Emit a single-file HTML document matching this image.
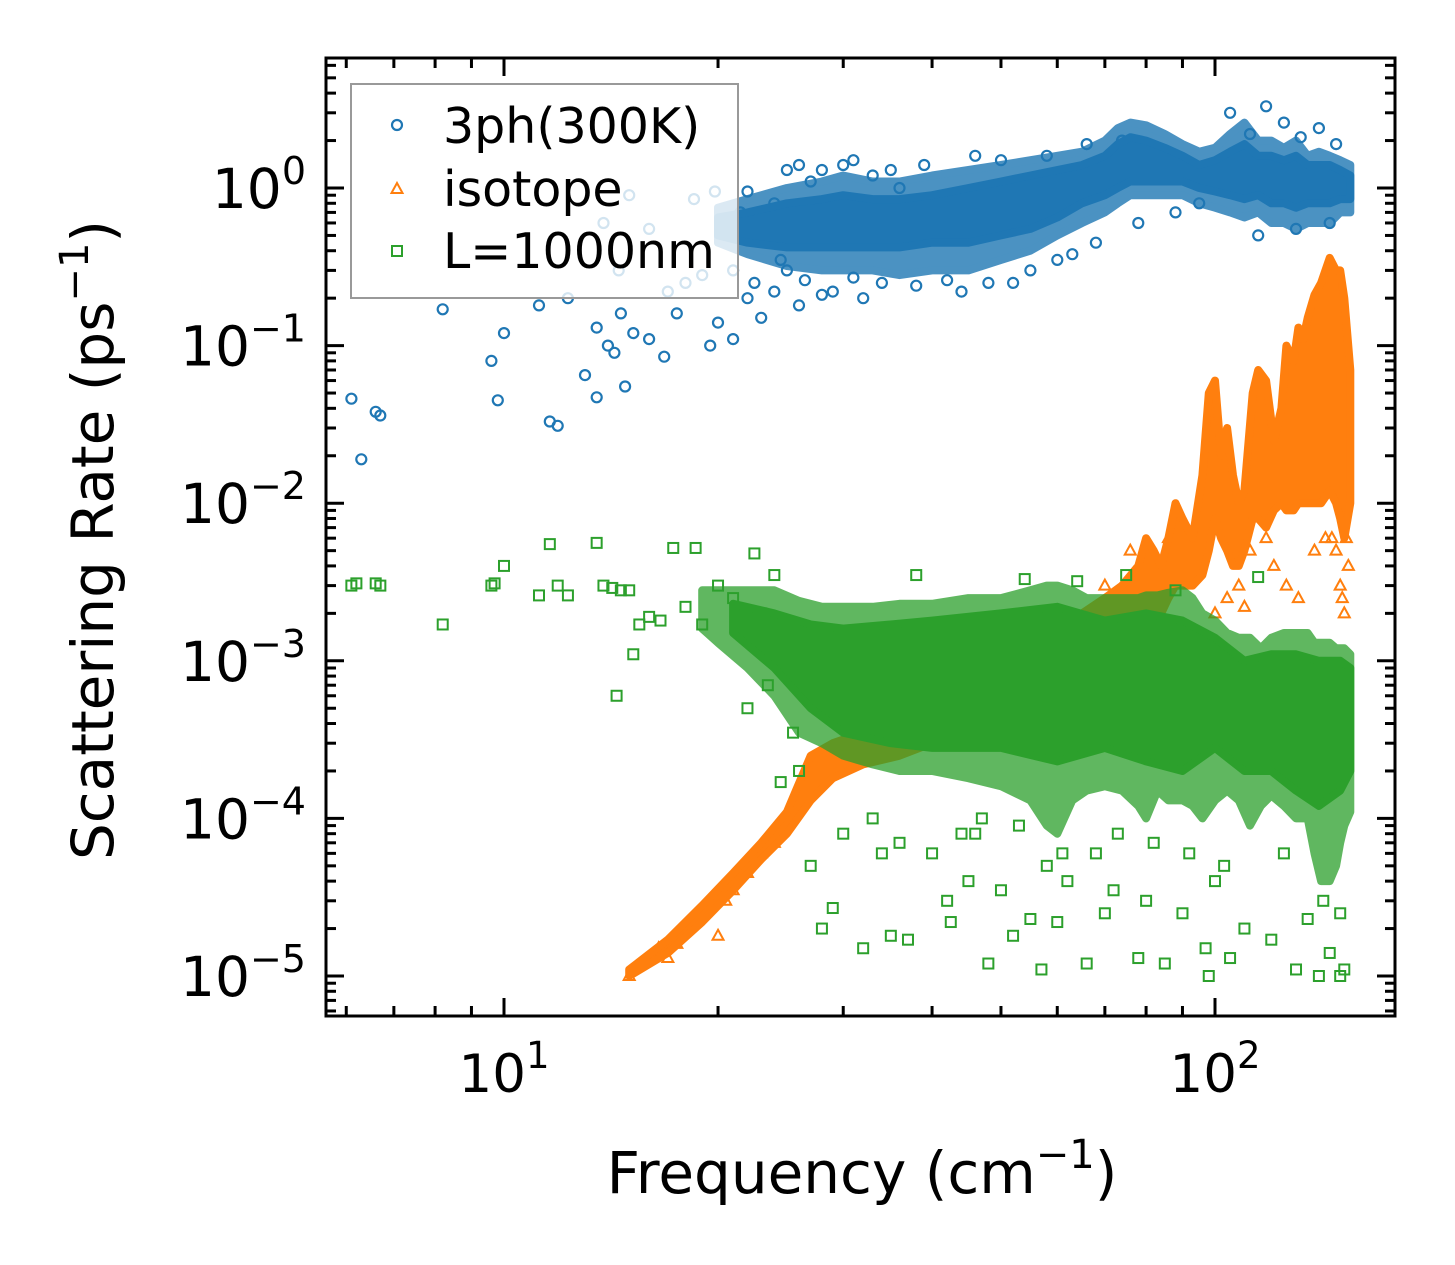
<!DOCTYPE html>
<html><head><meta charset="utf-8">
<style>
html,body{margin:0;padding:0;background:#fff;}
svg{display:block;font-family:"DejaVu Sans","Liberation Sans",sans-serif;}
</style></head>
<body>
<svg id="chart" width="1455" height="1265" viewBox="0 0 1455 1265" xmlns="http://www.w3.org/2000/svg">
<rect width="1455" height="1265" fill="#fff"/>
<g id="marks"></g>
<g id="axes"></g>
</svg>
<script>
// ---- data ----
const xTickVals = [10, 100];
const xTickExp = ["1", "2"];
const yTickVals = [1, 0.1, 0.01, 0.001, 0.0001, 0.00001];
const yTickExp = ["0", "\u22121", "\u22122", "\u22123", "\u22124", "\u22125"];

// 3ph band (dense envelope)
const bandFreq = [20,22,25,28,30,33,36,40,45,50,55,60,65,70,73,76,80,85,90,95,100,105,110,115,120,125,130,135,140,145,150,155];
const bandHi = [0.75,0.85,1.0,1.1,1.2,1.1,1.1,1.2,1.3,1.4,1.5,1.6,1.7,2.0,2.4,2.6,2.5,2.2,1.9,1.7,1.8,2.2,2.6,2.0,2.0,1.8,2.0,1.6,1.7,1.6,1.5,1.4];
const bandLo = [0.45,0.38,0.32,0.3,0.3,0.3,0.28,0.3,0.3,0.35,0.4,0.5,0.6,0.7,0.8,0.9,0.9,0.9,0.9,0.8,0.75,0.7,0.65,0.7,0.6,0.6,0.55,0.6,0.6,0.6,0.7,0.7];
const bandCoreLo = [0.5,0.45,0.42,0.42,0.42,0.42,0.42,0.45,0.45,0.5,0.55,0.65,0.8,0.9,1.0,1.1,1.1,1.1,1.1,1.0,0.95,0.9,0.85,0.9,0.8,0.8,0.75,0.8,0.8,0.8,0.85,0.85];
const bandCoreHi = [0.65,0.7,0.8,0.85,0.9,0.85,0.85,0.9,1.0,1.1,1.2,1.3,1.4,1.6,1.9,2.1,2.0,1.8,1.6,1.4,1.5,1.7,1.9,1.6,1.6,1.5,1.6,1.4,1.4,1.4,1.3,1.2];
// 3ph scattered points
const phFreq = [6.1,6.3,6.6,6.7,8.2,9.6,9.8,10,11.2,11.6,11.9,12.3,13,13.5,13.5,14,14.3,14.6,14.8,15.2,16,16.8,17.5,18,19.5,20,21,22,23,24,25,26,28,32,15,16,18.5,19.8,20.5,21.5,22,23,24,25,27,30,33,36,13.8,14.5,17,19,44,52,60,68,78,88,95,105,112,118,125,132,140,148,153,115,130,145,21,22.5,24.5,26.5,29,31,34,38,42,48,55,63,26,28,31,35,39,46,50,58,66,74];
const phRate = [0.046,0.019,0.038,0.036,0.17,0.08,0.045,0.12,0.18,0.033,0.031,0.2,0.065,0.047,0.13,0.1,0.09,0.16,0.055,0.12,0.11,0.085,0.16,0.25,0.1,0.14,0.11,0.2,0.15,0.22,0.3,0.18,0.21,0.2,0.9,0.55,0.85,0.95,0.6,0.7,0.95,0.5,0.8,1.3,1.1,1.4,1.2,1.0,0.6,0.3,0.22,0.28,0.22,0.25,0.35,0.45,0.6,0.7,0.8,3.0,2.2,3.3,2.6,2.1,2.4,1.9,0.9,0.5,0.55,0.6,0.3,0.25,0.35,0.26,0.22,0.27,0.25,0.24,0.26,0.25,0.3,0.38,1.4,1.3,1.5,1.3,1.4,1.6,1.5,1.6,1.9,2.0];

// isotope band
const isoFreq = [15,17,19,21,23,25,27,29,32,36,40,50,60,65,70,74,78,80,82,84,86,88,90,93,96,98,100,102,104,106,108,110,113,115,118,121,124,126,129,131,133,135,138,141,145,148,150,152,155];
const isoLo = [1e-5,1.4e-5,2.2e-5,3.5e-5,5.5e-5,8e-5,1.3e-4,1.8e-4,2.2e-4,2.5e-4,3e-4,3.5e-4,4.5e-4,6e-4,8e-4,1e-3,1.5e-3,2e-3,2e-3,2e-3,2.5e-3,3e-3,3e-3,3e-3,3.5e-3,5e-3,8e-3,6e-3,5e-3,4e-3,4e-3,5e-3,8e-3,8e-3,7e-3,9e-3,1e-2,9e-3,9e-3,1e-2,1e-2,1e-2,1e-2,1e-2,1.2e-2,1e-2,8e-3,6e-3,1e-2];
const isoHi = [1.1e-5,1.7e-5,2.8e-5,4.5e-5,7e-5,1.1e-4,2.5e-4,3e-4,3.5e-4,5e-4,6e-4,8e-4,1.2e-3,2e-3,2.5e-3,3e-3,4e-3,6e-3,5e-3,4e-3,6e-3,1e-2,8e-3,6e-3,1.5e-2,5e-2,6e-2,2e-2,3e-2,1.5e-2,1e-2,1.2e-2,5e-2,7e-2,6e-2,2.5e-2,4e-2,1e-1,8e-2,1.3e-1,1.1e-1,1.5e-1,2.1e-1,2.5e-1,3.6e-1,3e-1,3e-1,2e-1,7e-2];
// isotope scattered points
const isoPtFreq = [15,16,16.5,17,17.5,18.5,19,20,20.5,21,22,23,24,25,26,27,70,76,86,92,100,104,108,110,112,118,121,126,131,138,143,146,148,150,151,152,153,154];
const isoPtRate = [1e-5,1.3e-5,1.5e-5,1.3e-5,1.6e-5,2.2e-5,2.6e-5,1.8e-5,3e-5,3.5e-5,4.5e-5,6e-5,7e-5,9e-5,1.2e-4,1.6e-4,3e-3,5e-3,6e-3,4e-3,2e-3,2.5e-3,3e-3,2.2e-3,5e-3,6e-3,4e-3,3e-3,2.5e-3,5e-3,6e-3,6e-3,5e-3,3e-3,2.5e-3,2e-3,6e-3,4e-3];

// boundary band
const gFreq = [19,20,22,24,26,28,30,33,36,40,45,50,55,58,60,63,66,70,74,78,80,83,86,90,93,96,100,104,108,112,116,120,125,130,135,138,141,145,148,150,152,155];
const gHi = [2.8e-3,2.8e-3,2.8e-3,2.8e-3,2.4e-3,2.2e-3,2.2e-3,2.2e-3,2.3e-3,2.3e-3,2.5e-3,2.5e-3,2.8e-3,3e-3,3e-3,2.8e-3,2.5e-3,2.5e-3,2.5e-3,2.5e-3,2.6e-3,2.6e-3,2.7e-3,2.8e-3,2.5e-3,2e-3,1.8e-3,1.5e-3,1.4e-3,1.4e-3,1.2e-3,1.4e-3,1.5e-3,1.5e-3,1.5e-3,1.3e-3,1.3e-3,1.3e-3,1.2e-3,1.2e-3,1.2e-3,1.1e-3];
const gLo = [1.6e-3,1.3e-3,9e-4,6e-4,3.5e-4,3e-4,2.5e-4,2.2e-4,2e-4,2e-4,1.8e-4,1.6e-4,1.3e-4,9e-5,8e-5,1.3e-4,1.5e-4,1.6e-4,1.5e-4,1.2e-4,1e-4,1.5e-4,1.3e-4,1.3e-4,1.2e-4,1e-4,1.3e-4,1.5e-4,1.3e-4,9e-5,1.2e-4,1.4e-4,1.2e-4,1e-4,1e-4,6e-5,4e-5,4e-5,5e-5,7e-5,9e-5,1.1e-4];
const gCoreFreq = [21,24,27,30,35,40,50,60,70,80,90,100,110,120,130,140,150,155];
const gCoreLo = [1.5e-3,9e-4,5e-4,3.5e-4,3e-4,2.8e-4,2.8e-4,2.3e-4,2.8e-4,2.3e-4,2e-4,2.8e-4,2e-4,2e-4,1.5e-4,1.2e-4,1.5e-4,2e-4];
const gCoreHi = [2.3e-3,2e-3,1.7e-3,1.6e-3,1.7e-3,1.8e-3,2e-3,2.2e-3,1.8e-3,2e-3,1.8e-3,1.4e-3,1e-3,1.1e-3,1.1e-3,1e-3,1e-3,9e-4];
// boundary scattered points
const gPtFreq = [6.1,6.2,6.6,6.7,8.2,9.6,9.7,10,11.2,11.6,11.9,12.3,13.5,13.8,14.2,14.6,15,15.2,15.5,16,14.4,16.6,17.3,18,18.6,19,20,21,22,22.5,23,24,24.5,26,27,28,29,32,35,37,42,42.5,45,48,50,52,55,57,60,62,66,70,72,78,80,85,90,98,100,105,110,120,130,140,150,152,30,34,38,46,54,64,75,88,97,115,135,145,25.5,23.5,40,47,58,68,33,36,44,53,61,73,82,92,103,125,142,150];
const gPtRate = [3e-3,3.1e-3,3.1e-3,3e-3,1.7e-3,3e-3,3.1e-3,4e-3,2.6e-3,5.5e-3,3e-3,2.6e-3,5.6e-3,3e-3,2.9e-3,2.8e-3,2.8e-3,1.1e-3,1.7e-3,1.9e-3,6e-4,1.8e-3,5.2e-3,2.2e-3,5.2e-3,1.7e-3,3e-3,2.5e-3,5e-4,4.8e-3,2e-3,3.5e-3,1.7e-4,2e-4,5e-5,2e-5,2.7e-5,1.5e-5,1.8e-5,1.7e-5,3e-5,2.2e-5,4e-5,1.2e-5,3.5e-5,1.8e-5,2.3e-5,1.1e-5,2.2e-5,4e-5,1.2e-5,2.5e-5,3.5e-5,1.3e-5,3e-5,1.2e-5,2.5e-5,1e-5,4e-5,1.3e-5,2e-5,1.7e-5,1.1e-5,1e-5,1e-5,1.1e-5,8e-5,6e-5,3.5e-3,8e-5,3.3e-3,3.2e-3,3.5e-3,2.8e-3,1.5e-5,3.4e-3,2.3e-5,1.4e-5,3.5e-4,7e-4,6e-5,1e-4,5e-5,6e-5,1e-4,7e-5,8e-5,9e-5,6e-5,8e-5,7e-5,6e-5,5e-5,6e-5,3e-5,2.5e-5];

// ---- scales ----
const X10 = 504, XDEC = 711, Y1 = 188, YDEC = 157.6;
const L = 326, R = 1395, T = 58, B = 1016;
function xs(f){ return X10 + (Math.log10(f) - 1) * XDEC; }
function ys(v){ return Y1 - Math.log10(v) * YDEC; }

const NS = "http://www.w3.org/2000/svg";
const marks = document.getElementById('marks');
const axes = document.getElementById('axes');
function mk(tag, attrs, parent){
  const e = document.createElementNS(NS, tag);
  for (const k in attrs) e.setAttribute(k, attrs[k]);
  parent.appendChild(e); return e;
}
const C_BLUE = "#1f77b4", C_OR = "#ff7f0e", C_GR = "#2ca02c";

function band(freq, lo, hi, color, op, name){
  let d = "";
  for (let i = 0; i < freq.length; i++) d += (i ? "L" : "M") + xs(freq[i]).toFixed(1) + "," + ys(hi[i]).toFixed(1);
  for (let i = freq.length - 1; i >= 0; i--) d += "L" + xs(freq[i]).toFixed(1) + "," + ys(lo[i]).toFixed(1);
  d += "Z";
  const p = mk('path', {d: d, fill: color, stroke: color, 'stroke-width': 8, 'stroke-linejoin': 'round', opacity: op}, marks);
  
  
}
function circle(f, v, g){
  const c = mk('circle', {cx: xs(f).toFixed(1), cy: ys(v).toFixed(1), r: 5, fill: 'none', stroke: C_BLUE, 'stroke-width': 2.2}, g);
  
  
}
function tri(f, v, g){
  const x = xs(f), y = ys(v);
  const p = mk('path', {d: `M${x},${y-6}L${x+5.5},${y+4}L${x-5.5},${y+4}Z`, fill: 'none', stroke: C_OR, 'stroke-width': 2}, g);
  
  
}
function sq(f, v, g){
  const x = xs(f), y = ys(v);
  const r = mk('rect', {x: x-5, y: y-5, width: 10, height: 10, fill: 'none', stroke: C_GR, 'stroke-width': 2}, g);
  
  
}

// 3ph series
const gB = mk('g', {}, marks);


band(bandFreq, bandLo, bandHi, C_BLUE, 0.8, 'three-phonon-band-outer');
band(bandFreq, bandCoreLo, bandCoreHi, C_BLUE, 1, 'three-phonon-band-core');
for (let i = 0; i < phFreq.length; i++) circle(phFreq[i], phRate[i], gB);

// isotope series
const gO = mk('g', {}, marks);


band(isoFreq, isoLo, isoHi, C_OR, 1, 'isotope-band');
for (let i = 0; i < isoPtFreq.length; i++) tri(isoPtFreq[i], isoPtRate[i], gO);

// boundary series (drawn on top)
const gG = mk('g', {}, marks);


band(gFreq, gLo, gHi, C_GR, 0.75, 'boundary-band-outer');
band(gCoreFreq, gCoreLo, gCoreHi, C_GR, 1, 'boundary-band-core');
for (let i = 0; i < gPtFreq.length; i++) sq(gPtFreq[i], gPtRate[i], gG);

// ---- axes ----
const frame = mk('rect', {x: L, y: T, width: R-L, height: B-T, fill: 'none', stroke: '#000', 'stroke-width': 3}, axes);



function tick(x1, y1, x2, y2){ mk('line', {x1: x1, y1: y1, x2: x2, y2: y2, stroke: '#000', 'stroke-width': 3}, axes); }
for (let dec = 0; dec <= 2; dec++){
  for (let m = 1; m <= 9; m++){
    const f = m * Math.pow(10, dec);
    const x = xs(f);
    if (x < L + 1 || x > R - 1) continue;
    const len = m === 1 ? 18 : 10;
    tick(x, B, x, B - len); tick(x, T, x, T + len);
  }
}
for (let e = -6; e <= 1; e++){
  for (let m = 1; m <= 9; m++){
    const v = m * Math.pow(10, e);
    const y = ys(v);
    if (y < T + 1 || y > B - 1) continue;
    const len = m === 1 ? 18 : 10;
    tick(L, y, L + len, y); tick(R, y, R - len, y);
  }
}
for (let i = 0; i < xTickVals.length; i++){
  const t = mk('text', {x: xs(xTickVals[i]), y: 1092, 'font-size': 53, 'text-anchor': 'middle'}, axes);
  
  
  const a = document.createElementNS(NS, 'tspan'); a.textContent = "10"; t.appendChild(a);
  const b = document.createElementNS(NS, 'tspan'); b.setAttribute('dy', -24); b.setAttribute('font-size', 37); b.textContent = xTickExp[i]; t.appendChild(b);
}
for (let i = 0; i < yTickVals.length; i++){
  const t = mk('text', {x: 306, y: ys(yTickVals[i]) + 20, 'font-size': 55, 'text-anchor': 'end'}, axes);
  
  
  const a = document.createElementNS(NS, 'tspan'); a.textContent = "10"; t.appendChild(a);
  const b = document.createElementNS(NS, 'tspan'); b.setAttribute('dy', -24); b.setAttribute('font-size', 38); b.textContent = yTickExp[i]; t.appendChild(b);
}
</script>
<svg style="position:absolute;left:0;top:0" width="1455" height="1265" xmlns="http://www.w3.org/2000/svg" font-family="DejaVu Sans, Liberation Sans, sans-serif">
  <text x="862" y="1193" font-size="58" text-anchor="middle">Frequency (cm<tspan dy="-25" font-size="40">−1</tspan><tspan dy="25">)</tspan></text>
  <text transform="translate(113,540) rotate(-90)" font-size="58" text-anchor="middle">Scattering Rate (ps<tspan dy="-25" font-size="40">−1</tspan><tspan dy="25">)</tspan></text>
  <g>
    <rect x="351" y="84" width="387" height="214" fill="#fff" fill-opacity="0.8" stroke="#999" stroke-width="2"/>
    <g>
      <circle cx="397" cy="125" r="5" fill="none" stroke="#1f77b4" stroke-width="2.2"/>
      <text x="443" y="143" font-size="49">3ph(300K)</text>
    </g>
    <g>
      <path d="M397,183L402.5,193L391.5,193Z" fill="none" stroke="#ff7f0e" stroke-width="2"/>
      <text x="443" y="206" font-size="49">isotope</text>
    </g>
    <g>
      <rect x="392" y="246" width="10" height="10" fill="none" stroke="#2ca02c" stroke-width="2"/>
      <text x="443" y="268" font-size="49">L=1000nm</text>
    </g>
  </g>
</svg>
</body></html>
